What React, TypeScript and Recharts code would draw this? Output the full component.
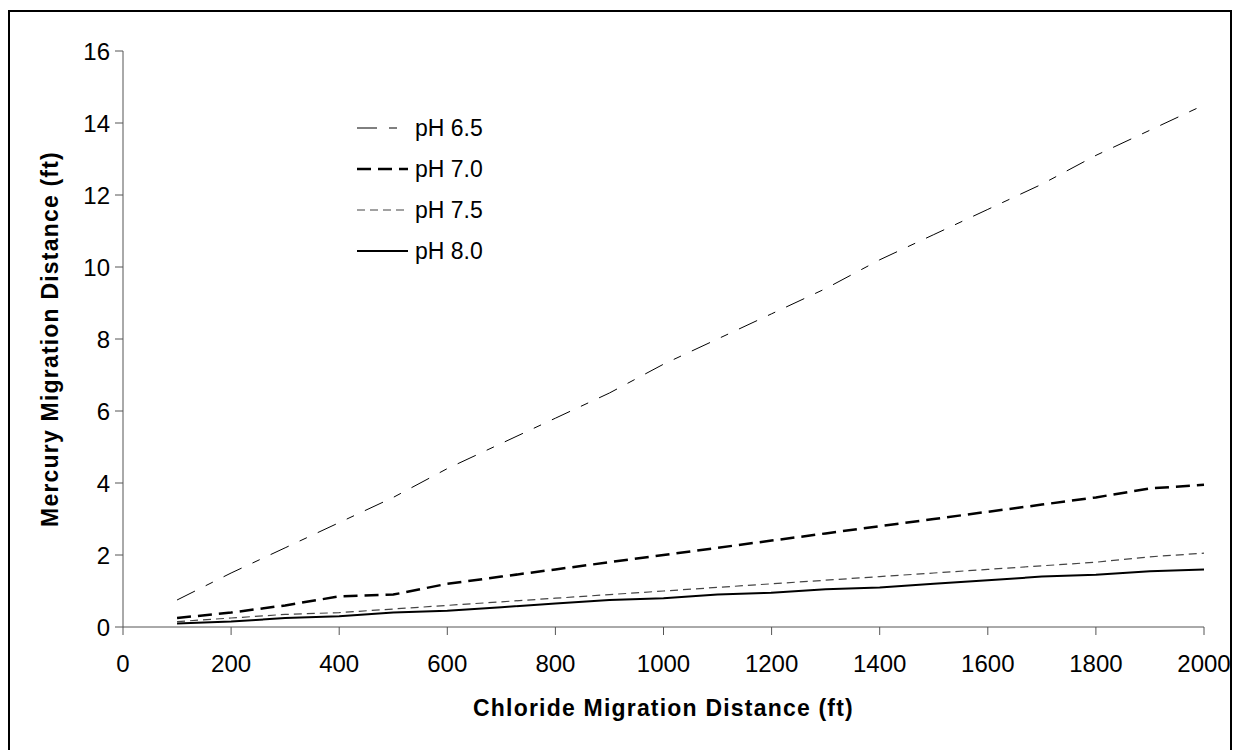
import React from 'react';
import { LineChart, Line, XAxis, YAxis, Legend } from 'recharts';

const distances = [100, 200, 300, 400, 500, 600, 700, 800, 900, 1000, 1100, 1200, 1300, 1400, 1500, 1600, 1700, 1800, 1900, 2000];
const ph65 = [0.75, 1.5, 2.2, 2.9, 3.6, 4.4, 5.1, 5.8, 6.5, 7.3, 8.0, 8.7, 9.4, 10.2, 10.9, 11.6, 12.3, 13.1, 13.8, 14.5];
const ph70 = [0.25, 0.4, 0.6, 0.85, 0.9, 1.2, 1.4, 1.6, 1.8, 2.0, 2.2, 2.4, 2.6, 2.8, 3.0, 3.2, 3.4, 3.6, 3.85, 3.95];
const ph75 = [0.15, 0.25, 0.35, 0.4, 0.5, 0.6, 0.7, 0.8, 0.9, 1.0, 1.1, 1.2, 1.3, 1.4, 1.5, 1.6, 1.7, 1.8, 1.95, 2.05];
const ph80 = [0.1, 0.15, 0.25, 0.3, 0.4, 0.45, 0.55, 0.65, 0.75, 0.8, 0.9, 0.95, 1.05, 1.1, 1.2, 1.3, 1.4, 1.45, 1.55, 1.6];
const xTicks = [0, 200, 400, 600, 800, 1000, 1200, 1400, 1600, 1800, 2000];
const yTicks = [0, 2, 4, 6, 8, 10, 12, 14, 16];

const data = distances.map((d, i) => ({ x: d, a: ph65[i], b: ph70[i], c: ph75[i], d: ph80[i] }));

const FONT = '"Liberation Sans", Arial, sans-serif';

const YTitle = (props: any) => {
  const vb = props.viewBox || {};
  const cx = vb.x + 27;
  const cy = vb.y + vb.height / 2;
  return (
    <text x={cx} y={cy} transform={`rotate(-90 ${cx} ${cy})`} textAnchor="middle" dominantBaseline="central"
      fontFamily={FONT} fontWeight="bold" fontSize={23} letterSpacing={1.2} fill="#000">
      Mercury Migration Distance (ft)
    </text>
  );
};

const XTitle = (props: any) => {
  const vb = props.viewBox || {};
  const cx = vb.x + vb.width / 2;
  const y = vb.y + 89;
  return (
    <text x={cx} y={y} textAnchor="middle" fontFamily={FONT} fontWeight="bold" fontSize={23} letterSpacing={1.2} fill="#000">
      Chloride Migration Distance (ft)
    </text>
  );
};

const LegendContent = (props: any) => {
  const payload = props.payload || [];
  return (
    <svg width={160} height={160} style={{ display: 'block' }}>
      {payload.map((e: any, i: number) => {
        const y = 16 + i * 41;
        const p = e.payload || {};
        return (
          <g key={i}>
            <line x1={2} x2={53} y1={y} y2={y} stroke={p.stroke || e.color} strokeWidth={p.strokeWidth} strokeDasharray={p.strokeDasharray} />
            <text x={60} y={y} dominantBaseline="central" fontFamily={FONT} fontSize={23} fill="#000">{e.value}</text>
          </g>
        );
      })}
    </svg>
  );
};

export default function App() {
  return (
    <div style={{ position: 'fixed', left: 8, top: 10, width: 1224, height: 760, border: '2px solid #000', boxSizing: 'border-box', background: '#fff' }}>
      <LineChart width={1220} height={740} data={data} margin={{ top: 39, right: 26, left: 13, bottom: 95 }}>
        <XAxis dataKey="x" type="number" domain={[0, 2000]} ticks={xTicks} tickSize={8} tickMargin={20} height={30}
          stroke="#555" tick={{ fill: '#000', fontSize: 24, fontFamily: FONT }} label={{ content: XTitle }} />
        <YAxis type="number" domain={[0, 16]} ticks={yTicks} tickSize={8} tickMargin={5} width={100}
          stroke="#555" tick={{ fill: '#000', fontSize: 24, fontFamily: FONT }} label={{ content: YTitle }} />
        <Legend content={LegendContent} layout="vertical" align="center" verticalAlign="middle"
          wrapperStyle={{ position: 'absolute', left: 345, top: 100, width: 160, height: 160 }} />
        <Line dataKey="a" name="pH 6.5" stroke="#000" strokeWidth={1} strokeDasharray="20 12 8 12" dot={false} isAnimationActive={false} />
        <Line dataKey="b" name="pH 7.0" stroke="#000" strokeWidth={2.5} strokeDasharray="14 7" dot={false} isAnimationActive={false} />
        <Line dataKey="c" name="pH 7.5" stroke="#444" strokeWidth={1.2} strokeDasharray="8 5" dot={false} isAnimationActive={false} />
        <Line dataKey="d" name="pH 8.0" stroke="#000" strokeWidth={2} dot={false} isAnimationActive={false} />
      </LineChart>
    </div>
  );
}
